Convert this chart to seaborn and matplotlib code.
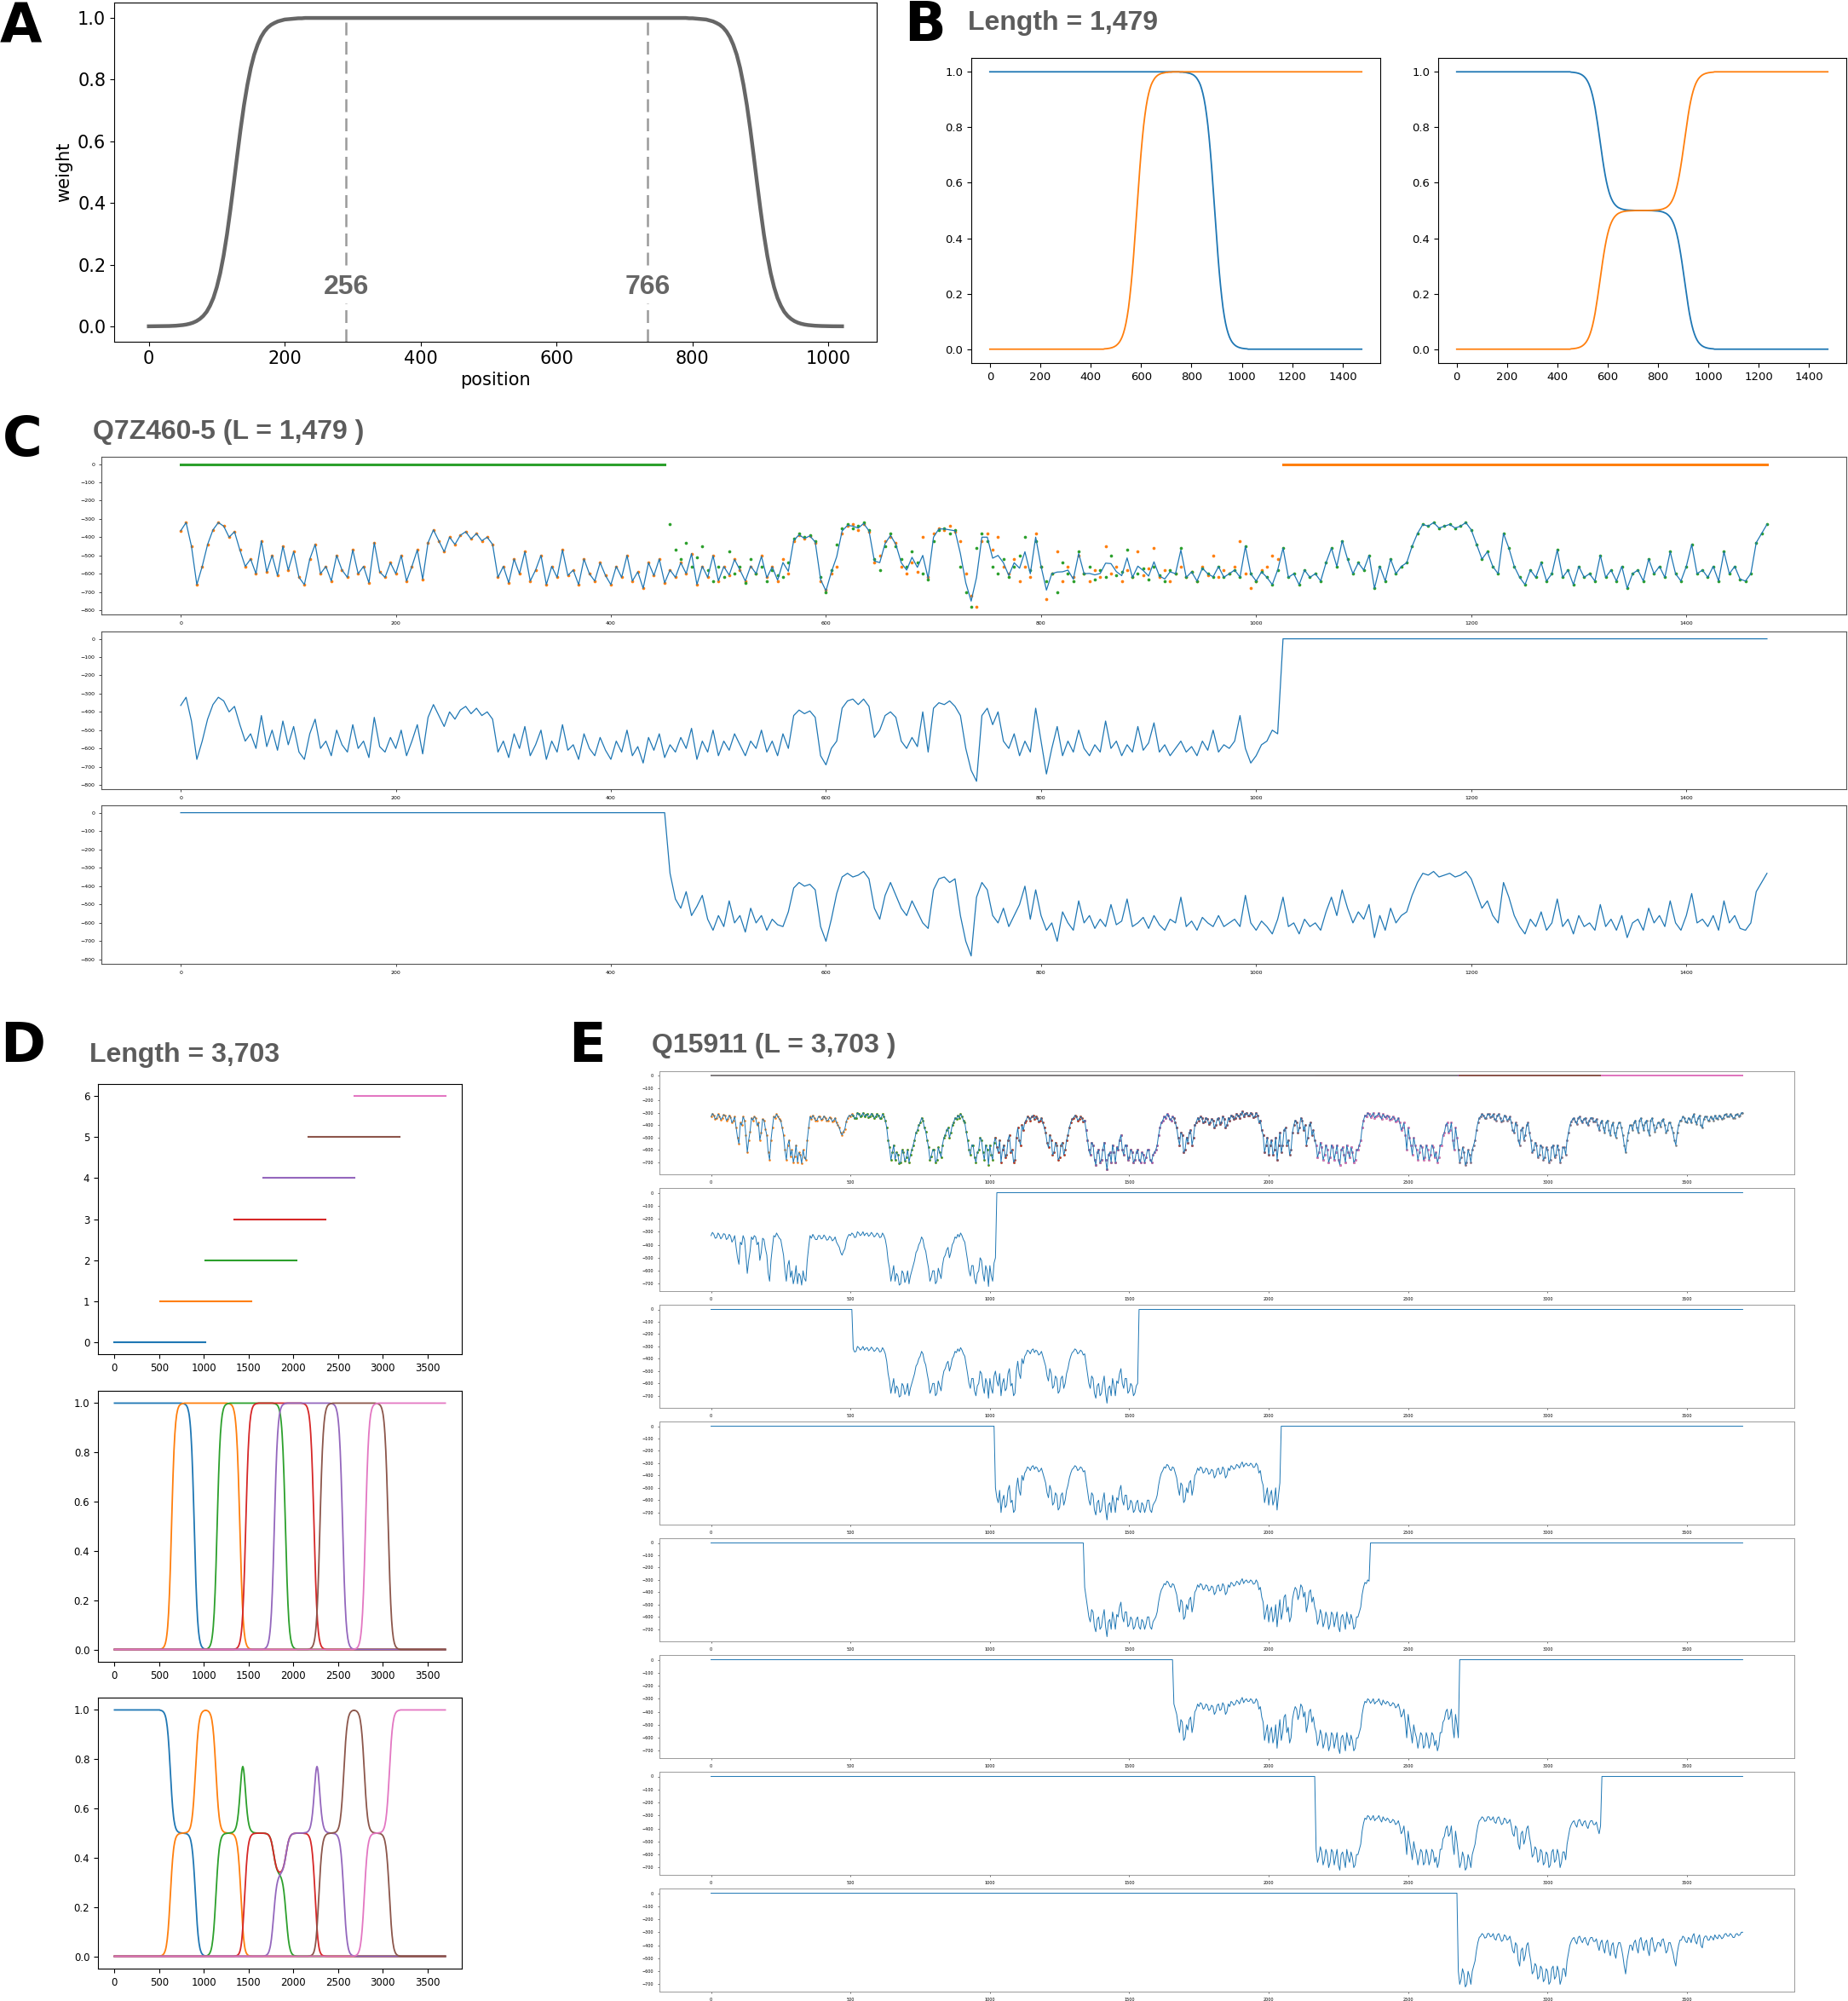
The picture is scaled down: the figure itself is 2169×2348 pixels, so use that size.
import numpy as np
import matplotlib
matplotlib.use("Agg")
import matplotlib.pyplot as plt
from matplotlib.ticker import MultipleLocator
import seaborn as sns

pal = sns.color_palette("tab10")

# ---------------- data ----------------
# rising edge of the weight curve in panel A, offsets 0..250, step 5
taper_rise = [0.0001, 0.0002, 0.0002, 0.0003, 0.0005, 0.0007, 0.001, 0.0014, 0.002, 0.0029,
              0.0041, 0.0058, 0.0083, 0.0118, 0.0168, 0.0239, 0.0336, 0.047, 0.0666, 0.092,
              0.127, 0.172, 0.229, 0.298, 0.378, 0.464, 0.553, 0.639, 0.717, 0.783,
              0.838, 0.881, 0.913, 0.938, 0.956, 0.969, 0.978, 0.984, 0.989, 0.992,
              0.995, 0.996, 0.997, 0.998, 0.999, 0.999, 1.0, 1.0, 1.0, 1.0, 1.0]
a_mark_x = [290, 734]
a_mark_txt = ["256", "766"]

# rising edge of the window weights in panels B/D, offsets 0..300, step 5
win_rise = [0.0012, 0.0015, 0.002, 0.0026, 0.0034, 0.0044, 0.0057, 0.0075, 0.0097, 0.0125,
            0.0163, 0.021, 0.027, 0.035, 0.045, 0.058, 0.074, 0.094, 0.119, 0.149,
            0.187, 0.23, 0.279, 0.335, 0.396, 0.461, 0.526, 0.591, 0.653, 0.71,
            0.761, 0.806, 0.843, 0.875, 0.901, 0.922, 0.939, 0.953, 0.963, 0.971,
            0.978, 0.983, 0.987, 0.99, 0.992, 0.994, 0.995, 0.996, 0.997, 0.998,
            0.998, 0.999, 0.999, 0.999, 1.0, 1.0, 1.0, 1.0, 1.0, 1.0, 1.0]

c_name = "Q7Z460-5"
c_len = "1,479"
c_starts = [0, 455]
# window 1 prediction, residues 0..1020 step 5
c_w1 = [-365, -320, -450, -660, -560, -440, -360, -320, -340, -400, -370, -470, -560, -520, -600, -420, -590, -500, -610, -450,
        -580, -480, -620, -660, -520, -440, -600, -560, -640, -500, -580, -620, -470, -600, -560, -650, -430, -590, -620, -540,
        -600, -500, -640, -560, -470, -630, -430, -360, -420, -480, -400, -440, -390, -370, -410, -380, -420, -400, -440, -620,
        -560, -650, -520, -600, -480, -640, -580, -500, -660, -560, -620, -470, -610, -580, -660, -520, -600, -640, -540, -610,
        -660, -560, -620, -500, -640, -590, -680, -540, -610, -520, -650, -580, -620, -540, -600, -490, -660, -560, -620, -500,
        -640, -560, -610, -520, -580, -640, -560, -600, -500, -620, -560, -640, -520, -600, -420, -390, -410, -395, -430, -640,
        -690, -600, -560, -380, -340, -330, -360, -330, -370, -540, -500, -420, -400, -430, -560, -600, -540, -590, -400, -620,
        -380, -350, -360, -340, -370, -420, -600, -720, -780, -420, -380, -470, -400, -560, -600, -520, -640, -560, -620, -380,
        -560, -740, -600, -480, -640, -560, -620, -500, -600, -640, -580, -620, -450, -600, -560, -640, -580, -620, -480, -610,
        -570, -460, -620, -580, -640, -600, -560, -620, -590, -640, -560, -610, -500, -620, -580, -600, -560, -420, -600, -680,
        -640, -580, -560, -500, -520]
# window 2 prediction, residues 455..1475 step 5
c_w2 = [-330, -470, -520, -430, -560, -510, -450, -580, -640, -560, -620, -480, -600, -560, -650, -520, -600, -560, -640, -580,
        -610, -620, -540, -410, -380, -400, -390, -420, -620, -700, -580, -440, -350, -330, -350, -340, -320, -360, -520, -580,
        -450, -380, -450, -520, -560, -480, -540, -600, -630, -420, -360, -350, -380, -360, -560, -700, -780, -460, -380, -420,
        -560, -600, -520, -620, -560, -500, -400, -580, -420, -560, -640, -600, -700, -540, -600, -640, -480, -600, -560, -630,
        -580, -620, -500, -610, -590, -470, -620, -600, -570, -630, -560, -610, -640, -580, -600, -460, -620, -590, -640, -570,
        -600, -620, -560, -620, -600, -580, -620, -450, -600, -640, -590, -620, -660, -580, -460, -620, -600, -660, -580, -620,
        -600, -640, -540, -460, -560, -420, -520, -600, -540, -580, -500, -680, -560, -640, -520, -600, -560, -540, -450, -380,
        -330, -340, -320, -350, -340, -330, -350, -340, -320, -360, -440, -520, -480, -560, -600, -380, -460, -560, -620, -660,
        -580, -620, -540, -640, -600, -470, -620, -580, -660, -560, -620, -600, -640, -500, -620, -580, -640, -560, -680, -600,
        -580, -640, -520, -600, -560, -620, -480, -600, -640, -560, -440, -600, -580, -620, -560, -640, -480, -600, -560, -630,
        -640, -600, -430, -380, -330]

e_name = "Q15911"
e_len = "3,703"
e_starts = [0, 510, 1020, 1340, 1660, 2170, 2680]
# merged profile, residues 0..3700 step 5 (40 values = 200 residues per row)
e_profile = [
    -330, -305, -320, -350, -345, -310, -325, -355, -340, -315, -320, -360, -350, -320, -335, -380, -360, -330, -420, -500,
    -550, -380, -400, -330, -360, -480, -620, -520, -450, -340, -360, -330, -340, -400, -380, -520, -460, -350, -360, -430,
    -480, -620, -680, -520, -420, -330, -340, -310, -330, -350, -360, -420, -480, -600, -680, -560, -520, -650, -600, -700,
    -650, -560, -700, -620, -640, -710, -600, -660, -680, -520, -420, -330, -350, -320, -340, -360, -360, -330, -330, -355,
    -350, -325, -340, -365, -360, -335, -345, -370, -360, -340, -380, -400, -420, -460, -480, -450, -430, -370, -340, -320,
    -330, -310, -320, -345, -340, -300, -310, -330, -320, -300, -330, -315, -310, -335, -325, -305, -320, -340, -330, -310,
    -320, -345, -340, -310, -330, -360, -420, -520, -580, -680, -620, -560, -680, -620, -640, -710, -700, -600, -620, -690,
    -660, -600, -700, -640, -600, -560, -520, -460, -440, -400, -380, -340, -360, -420, -450, -520, -580, -680, -650, -600,
    -600, -700, -680, -580, -620, -660, -560, -500, -480, -440, -420, -500, -460, -400, -380, -340, -350, -320, -340, -310,
    -330, -360, -380, -450, -520, -600, -640, -560, -560, -660, -700, -620, -600, -500, -520, -620, -680, -560, -600, -720,
    -560, -640, -680, -540, -500, -580, -620, -520, -700, -600, -560, -660, -640, -520, -480, -620, -600, -700, -680, -500,
    -420, -520, -560, -400, -440, -380, -360, -330, -340, -360, -330, -320, -350, -330, -340, -370, -360, -340, -380, -420,
    -460, -540, -580, -480, -520, -640, -620, -540, -560, -680, -660, -560, -540, -640, -600, -520, -480, -420, -380, -350,
    -340, -320, -330, -360, -350, -330, -340, -370, -360, -440, -520, -600, -640, -540, -560, -680, -720, -620, -600, -700,
    -680, -600, -540, -680, -760, -640, -620, -700, -560, -620, -700, -580, -600, -520, -480, -600, -640, -560, -560, -680,
    -660, -600, -620, -700, -680, -620, -600, -680, -700, -620, -640, -700, -660, -600, -600, -680, -700, -640, -620, -600,
    -560, -480, -420, -380, -360, -330, -340, -310, -320, -350, -360, -330, -340, -380, -420, -500, -560, -460, -480, -620,
    -600, -500, -540, -460, -440, -560, -500, -400, -380, -340, -360, -330, -340, -380, -370, -340, -350, -390, -380, -350,
    -360, -420, -400, -350, -340, -390, -380, -330, -350, -420, -400, -340, -360, -320, -330, -350, -340, -310, -320, -340,
    -310, -290, -330, -310, -300, -320, -320, -300, -310, -335, -330, -300, -320, -380, -360, -440, -480, -620, -560, -500,
    -640, -560, -520, -640, -600, -500, -680, -560, -460, -620, -560, -440, -420, -560, -520, -640, -600, -460, -400, -360,
    -380, -460, -420, -340, -360, -440, -400, -560, -500, -400, -380, -480, -440, -520, -560, -660, -620, -540, -580, -680,
    -640, -560, -600, -700, -660, -560, -580, -680, -620, -560, -680, -720, -600, -580, -640, -700, -560, -620, -660, -580,
    -620, -700, -680, -600, -600, -560, -520, -420, -360, -320, -330, -300, -310, -335, -320, -300, -340, -325, -320, -300,
    -330, -350, -310, -330, -340, -320, -330, -355, -350, -330, -340, -370, -360, -340, -380, -440, -420, -380, -480, -600,
    -420, -500, -560, -640, -500, -560, -600, -680, -620, -560, -580, -680, -660, -560, -600, -680, -640, -560, -580, -660,
    -620, -700, -660, -560, -560, -480, -460, -400, -380, -460, -440, -380, -520, -600, -420, -500, -600, -700, -660, -580,
    -620, -720, -700, -600, -640, -700, -600, -560, -520, -440, -380, -340, -330, -310, -320, -345, -340, -310, -310, -335,
    -330, -310, -350, -360, -320, -310, -340, -370, -360, -320, -330, -360, -350, -330, -380, -440, -460, -380, -400, -520,
    -560, -440, -420, -520, -480, -400, -380, -460, -520, -620, -600, -540, -560, -660, -640, -560, -580, -680, -660, -580,
    -600, -700, -680, -580, -560, -660, -640, -560, -600, -700, -660, -580, -580, -640, -520, -460, -400, -370, -350, -340,
    -370, -390, -340, -330, -360, -380, -350, -340, -380, -400, -360, -340, -340, -370, -370, -350, -400, -440, -380, -360,
    -420, -460, -380, -360, -440, -480, -400, -380, -460, -500, -420, -380, -380, -420, -480, -560, -620, -520, -460, -400,
    -400, -440, -380, -360, -420, -460, -360, -340, -400, -440, -380, -360, -440, -480, -360, -340, -400, -450, -420, -380,
    -380, -410, -360, -350, -400, -460, -440, -380, -380, -420, -460, -520, -560, -460, -400, -360, -360, -330, -340, -370,
    -380, -340, -350, -380, -330, -310, -370, -390, -340, -320, -400, -420, -350, -330, -330, -360, -360, -330, -340, -360,
    -320, -340, -350, -320, -330, -350, -340, -315, -310, -330, -330, -310, -320, -340, -340, -315, -310, -325, -320, -300,
    -300]

# ---------------- derived arrays ----------------
a_taper = np.array(taper_rise + [1.0] * 103 + taper_rise[::-1])
w_taper = np.array(win_rise + [1.0] * 83 + win_rise[::-1])


def win_weights(n_grid, starts, step, tap):
    W = np.zeros((len(starts), n_grid))
    M = np.zeros((len(starts), n_grid), dtype=bool)
    for k, s in enumerate(starts):
        t = tap.copy()
        h = len(t) // 2
        if k == 0:
            t[:h] = 1.0
        if k == len(starts) - 1:
            t[h:] = 1.0
        i0 = s // step
        W[k, i0:i0 + len(t)] = t
        M[k, i0:i0 + len(t)] = True
    return W, M


def segments(mask):
    idx = np.flatnonzero(mask)
    if len(idx) == 0:
        return []
    br = np.flatnonzero(np.diff(idx) > 1)
    return list(zip(np.r_[idx[0], idx[br + 1]], np.r_[idx[br], idx[-1]]))


c_x = np.arange(0, 1476, 5)
Wc, Mc = win_weights(len(c_x), c_starts, 5, w_taper)
c_vals = np.zeros_like(Wc)
c_vals[0, Mc[0]] = c_w1
c_vals[1, Mc[1]] = c_w2
c_merged = (Wc * c_vals).sum(0) / Wc.sum(0)

e_x = np.arange(0, 3701, 5)
We, Me = win_weights(len(e_x), e_starts, 5, w_taper)
e_vals = np.where(Me, np.array(e_profile)[None, :], 0.0)
e_merged = (We * e_vals).sum(0) / We.sum(0)

# ---------------- figure ----------------
W_PX, H_PX = 2169, 2348
fig = plt.figure(figsize=(W_PX / 100, H_PX / 100), dpi=100)


def add_ax(x0, y0, x1, y1):
    return fig.add_axes([x0 / W_PX, 1 - y1 / H_PX, (x1 - x0) / W_PX, (y1 - y0) / H_PX])


def letter(x, y, s):
    fig.text(x / W_PX, 1 - y / H_PX, s, fontsize=46, fontweight='bold', color='black',
             ha='left', va='baseline', family='DejaVu Sans')


def title(x, y, s):
    fig.text(x / W_PX, 1 - y / H_PX, s, fontsize=23, fontweight='bold', color='#5c5c5c',
             ha='left', va='baseline', family='Liberation Sans')


def line(ax, x, y, **kw):
    sns.lineplot(x=x, y=y, ax=ax, estimator=None, sort=False, **kw)


# ---- A ----
axA = add_ax(134, 3, 1029, 401)
a_x = np.arange(0, 1021, 5)
axA.vlines(a_mark_x, -0.05, 1.0, colors='#9a9a9a', linestyles=(0, (6, 3)), lw=1.8)
line(axA, a_x, a_taper, color='#666666', lw=3.2)
axA.set_ylim(-0.05, 1.05)
for xv, t in zip(a_mark_x, a_mark_txt):
    axA.text(xv, 0.127, t, ha='center', va='center', fontsize=23, fontweight='bold',
             color='#666666', family='Liberation Sans',
             bbox=dict(facecolor='white', edgecolor='none', pad=3))
axA.set_xlabel('position', fontsize=15)
axA.set_ylabel('weight', fontsize=15)
axA.tick_params(labelsize=15)
letter(0, 50, 'A')

# ---- B ----
title(1136, 35, 'Length = ' + c_len)
letter(1061, 48, 'B')
axB1 = add_ax(1140, 68, 1620, 426)
axB2 = add_ax(1688, 68, 2167, 426)
Wc_n = Wc / Wc.sum(0)
for k in range(len(c_starts)):
    line(axB1, c_x, Wc[k], color=pal[k], lw=1.3)
    line(axB2, c_x, Wc_n[k], color=pal[k], lw=1.3)
for ax in (axB1, axB2):
    ax.xaxis.set_major_locator(MultipleLocator(200))
    ax.tick_params(labelsize=9.5)

# ---- C ----
title(109, 515, c_name + ' (L = ' + c_len + ' )')
letter(3, 535, 'C')
c_rows = [(536, 721), (741, 926), (945, 1131)]
axC = [add_ax(119, r0, 2167, r1) for r0, r1 in c_rows]
line(axC[0], c_x, c_merged, color=pal[0], lw=0.9)
for k in range(len(c_starts)):
    for a, b in segments(~Mc[k]):
        line(axC[0], c_x[a:b + 1], np.zeros(b - a + 1), color=pal[k + 1], lw=2.2)
    sns.scatterplot(x=c_x[Mc[k]], y=c_vals[k, Mc[k]], ax=axC[0], color=pal[k + 1],
                    s=7, linewidth=0)
for k in range(len(c_starts)):
    line(axC[k + 1], c_x, c_vals[k], color=pal[0], lw=0.9)
for ax in axC:
    ax.set_ylim(-823, 40)
    ax.xaxis.set_major_locator(MultipleLocator(200))
    ax.yaxis.set_major_locator(MultipleLocator(100))
    ax.tick_params(labelsize=4.5, length=2, width=0.5)
    for sp in ax.spines.values():
        sp.set_color('#555555')
        sp.set_linewidth(0.8)

# ---- D ----
title(105, 1246, 'Length = ' + e_len)
letter(0, 1246, 'D')
axD = [add_ax(115, 1272, 542, 1589), add_ax(115, 1632, 542, 1950), add_ax(115, 1992, 542, 2310)]
for k, s in enumerate(e_starts):
    line(axD[0], [s, s + 1020], [k, k], color=pal[k], lw=1.5)
We_n = We / We.sum(0)
for k in range(len(e_starts)):
    line(axD[1], e_x, We[k], color=pal[k], lw=1.3)
    line(axD[2], e_x, We_n[k], color=pal[k], lw=1.3)
axD[0].yaxis.set_major_locator(MultipleLocator(1))
for ax in axD:
    ax.xaxis.set_major_locator(MultipleLocator(500))
    ax.tick_params(labelsize=8.5)

# ---- E ----
title(765, 1235, e_name + ' (L = ' + e_len + ' )')
letter(667, 1246, 'E')
axE = [add_ax(774, 1257 + 137 * i, 2106, 1378 + 137 * i) for i in range(8)]
line(axE[0], e_x, e_merged, color=pal[0], lw=0.7)
for k in range(len(e_starts)):
    for a, b in segments(~Me[k]):
        line(axE[0], e_x[a:b + 1], np.zeros(b - a + 1), color=pal[k + 1], lw=1.4)
    sns.scatterplot(x=e_x[Me[k]], y=e_vals[k, Me[k]], ax=axE[0], color=pal[k + 1],
                    s=3.5, linewidth=0)
for k in range(len(e_starts)):
    line(axE[k + 1], e_x, e_vals[k], color=pal[0], lw=0.7)
for ax in axE:
    ax.xaxis.set_major_locator(MultipleLocator(500))
    ax.yaxis.set_major_locator(MultipleLocator(100))
    ax.tick_params(labelsize=3.5, length=1.5, width=0.4)
    for sp in ax.spines.values():
        sp.set_color('#9a9a9a')
        sp.set_linewidth(0.7)

fig.savefig('out.png', dpi=100)
